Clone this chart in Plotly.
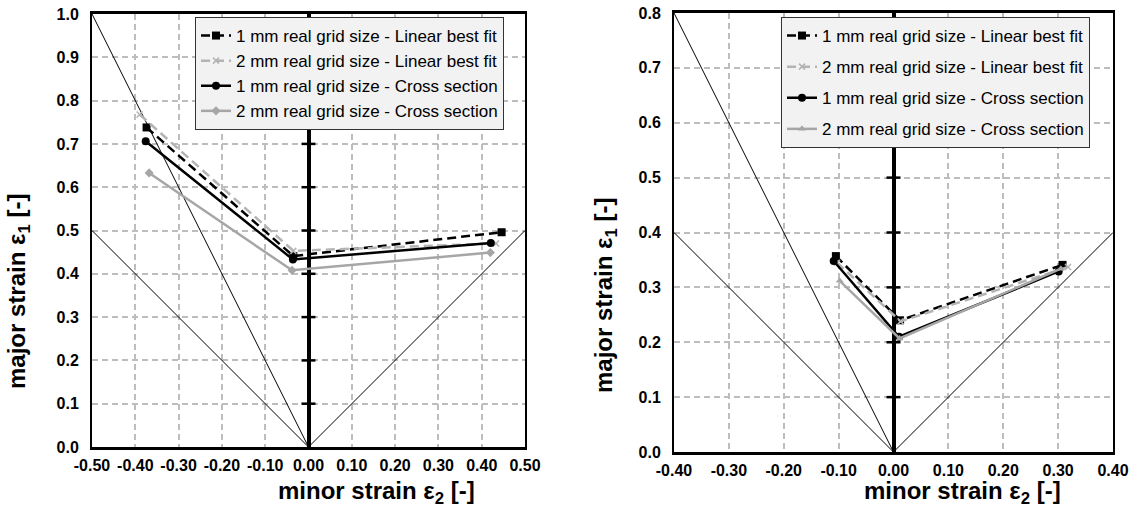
import plotly.graph_objects as go

# ---------------- data ----------------
series_names = [
    "1 mm real grid size - Linear best fit",
    "2 mm real grid size - Linear best fit",
    "1 mm real grid size - Cross section",
    "2 mm real grid size - Cross section",
]

# left chart
L_x1 = [-0.374, -0.035, 0.446]
L_y1 = [0.738, 0.441, 0.496]
L_x2 = [-0.390, -0.035, 0.433]
L_y2 = [0.768, 0.453, 0.470]
L_x3 = [-0.376, -0.036, 0.421]
L_y3 = [0.706, 0.433, 0.471]
L_x4 = [-0.368, -0.038, 0.420]
L_y4 = [0.633, 0.408, 0.449]

# right chart
R_x1 = [-0.105, 0.012, 0.308]
R_y1 = [0.357, 0.240, 0.341]
R_x2 = [-0.103, 0.013, 0.318]
R_y2 = [0.345, 0.238, 0.337]
R_x3 = [-0.109, 0.010, 0.301]
R_y3 = [0.348, 0.210, 0.329]
R_x4 = [-0.098, 0.011, 0.305]
R_y4 = [0.312, 0.207, 0.334]

# reference (strain path) lines: uniaxial, pure shear, equibiaxial
L_ref_x = [[-0.5, 0.0], [-0.5, 0.0], [0.0, 0.5]]
L_ref_y = [[1.0, 0.0], [0.5, 0.0], [0.0, 0.5]]
R_ref_x = [[-0.4, 0.0], [-0.4, 0.0], [0.0, 0.4]]
R_ref_y = [[0.8, 0.0], [0.4, 0.0], [0.0, 0.4]]

# ticks
L_xticks = [-0.5, -0.4, -0.3, -0.2, -0.1, 0.0, 0.1, 0.2, 0.3, 0.4, 0.5]
L_xticktext = ["-0.50", "-0.40", "-0.30", "-0.20", "-0.10", "0.00", "0.10", "0.20", "0.30", "0.40", "0.50"]
L_yticks = [0.0, 0.1, 0.2, 0.3, 0.4, 0.5, 0.6, 0.7, 0.8, 0.9, 1.0]
L_yticktext = ["0.0", "0.1", "0.2", "0.3", "0.4", "0.5", "0.6", "0.7", "0.8", "0.9", "1.0"]
R_xticks = [-0.4, -0.3, -0.2, -0.1, 0.0, 0.1, 0.2, 0.3, 0.4]
R_xticktext = ["-0.40", "-0.30", "-0.20", "-0.10", "0.00", "0.10", "0.20", "0.30", "0.40"]
R_yticks = [0.0, 0.1, 0.2, 0.3, 0.4, 0.5, 0.6, 0.7, 0.8]
R_yticktext = ["0.0", "0.1", "0.2", "0.3", "0.4", "0.5", "0.6", "0.7", "0.8"]

# ---------------- styling ----------------
FONT = "Liberation Sans, Arial, sans-serif"
BLACK = "#000000"
GRAY = "#a6a6a6"
GRAY_D = "#b4b4b4"
W, H = 1136, 507

styles = [
    dict(line=dict(color=BLACK, width=2.5, dash="9px,5px"),
         marker=dict(symbol="square", size=8, color=BLACK)),
    dict(line=dict(color=GRAY_D, width=2.5, dash="9px,5px"),
         marker=dict(symbol="x-thin", size=6, color=GRAY_D, line=dict(color=GRAY_D, width=1.5))),
    dict(line=dict(color=BLACK, width=2.5),
         marker=dict(symbol="circle", size=8, color=BLACK)),
    None,  # set per chart
]

fig = go.Figure()


def add_chart(xs, ys, refx, refy, yticks, xax, yax, legend, s4_symbol):
    # reference lines
    for rx, ry in zip(refx, refy):
        fig.add_trace(go.Scatter(x=rx, y=ry, mode="lines", line=dict(color=BLACK, width=1),
                                 showlegend=False, hoverinfo="skip", xaxis=xax, yaxis=yax))
    # tick marks along the vertical zero axis
    fig.add_trace(go.Scatter(x=[0.0] * len(yticks[1:-1]), y=yticks[1:-1], mode="markers",
                             marker=dict(symbol="line-ew", size=10, line=dict(color=BLACK, width=2.5)),
                             showlegend=False, hoverinfo="skip", xaxis=xax, yaxis=yax))
    for i, (x, y) in enumerate(zip(xs, ys)):
        st = styles[i]
        if st is None:
            st = dict(line=dict(color=GRAY, width=2.5),
                      marker=dict(symbol=s4_symbol, size=7, color=GRAY))
        fig.add_trace(go.Scatter(x=x, y=y, mode="lines+markers", name=series_names[i],
                                 line=st["line"], marker=st["marker"], legend=legend,
                                 legendgroup=f"{legend}{i}", xaxis=xax, yaxis=yax))


add_chart([L_x1, L_x2, L_x3, L_x4], [L_y1, L_y2, L_y3, L_y4], L_ref_x, L_ref_y, L_yticks,
          "x", "y", "legend", "diamond")
add_chart([R_x1, R_x2, R_x3, R_x4], [R_y1, R_y2, R_y3, R_y4], R_ref_x, R_ref_y, R_yticks,
          "x2", "y2", "legend2", "triangle-up")


def bold(labels):
    return [f"<b>{t}</b>" for t in labels]


tickfont = dict(family=FONT, size=16, color=BLACK)
grid = dict(showgrid=True, gridcolor="#bdbdbd", griddash="6px,4px", gridwidth=1.5)
common_x = dict(showline=True, linecolor=BLACK, linewidth=2.5, mirror=True, automargin=False,
                zeroline=True, zerolinecolor=BLACK, zerolinewidth=3.5,
                ticks="outside", ticklen=2, tickcolor="rgba(0,0,0,0)",
                tickfont=tickfont, fixedrange=True, **grid)
common_y = dict(showline=True, linecolor=BLACK, linewidth=2, mirror=True, automargin=False,
                zeroline=False,
                ticks="outside", ticklen=8, tickcolor="rgba(0,0,0,0)",
                tickfont=tickfont, fixedrange=True, **grid)

fig.update_layout(
    template="none",
    width=W, height=H,
    margin=dict(l=0, r=0, t=0, b=0, autoexpand=False),
    paper_bgcolor="white", plot_bgcolor="white",
    font=dict(family=FONT, color=BLACK),
    xaxis=dict(domain=[92 / W, 525 / W], range=[-0.5, 0.5], tickvals=L_xticks,
               ticktext=bold(L_xticktext), anchor="y", **common_x),
    yaxis=dict(domain=[1 - 447 / H, 1 - 14 / H], range=[0, 1.0], tickvals=L_yticks,
               ticktext=bold(L_yticktext), anchor="x", **common_y),
    xaxis2=dict(domain=[674 / W, 1113 / W], range=[-0.4, 0.4], tickvals=R_xticks,
                ticktext=bold(R_xticktext), anchor="y2", **common_x),
    yaxis2=dict(domain=[1 - 452 / H, 1 - 13 / H], range=[0, 0.8], tickvals=R_yticks,
                ticktext=bold(R_yticktext), anchor="x2", **common_y),
    legend=dict(x=195 / W, y=1 - 17 / H, xanchor="left", yanchor="top",
                bgcolor="#f2f2f2", bordercolor="#333333", borderwidth=1,
                font=dict(family=FONT, size=17, color=BLACK), tracegroupgap=0,
                itemclick=False, itemdoubleclick=False),
    legend2=dict(x=781 / W, y=1 - 17 / H, xanchor="left", yanchor="top",
                 bgcolor="#f2f2f2", bordercolor="#333333", borderwidth=1,
                 font=dict(family=FONT, size=17, color=BLACK), tracegroupgap=6,
                 itemclick=False, itemdoubleclick=False),
    showlegend=True,
)

title_font = dict(family=FONT, size=24, color=BLACK)
annotations = [
    dict(text="<b>minor strain ε<sub>2</sub> [-]</b>", x=376 / W, y=0.0, yanchor="bottom", yshift=-3),
    dict(text="<b>minor strain ε<sub>2</sub> [-]</b>", x=962 / W, y=0.0, yanchor="bottom", yshift=-3),
    dict(text="<b>major strain ε<sub>1</sub> [-]</b>", x=18 / W, y=1 - 292 / H, textangle=-90,
         yanchor="middle"),
    dict(text="<b>major strain ε<sub>1</sub> [-]</b>", x=605 / W, y=1 - 296 / H, textangle=-90,
         yanchor="middle"),
]
for a in annotations:
    fig.add_annotation(xref="paper", yref="paper", showarrow=False, font=title_font,
                       xanchor="center", **a)

fig.write_html(
    "out.html",
    config={"displayModeBar": False},
    post_script="document.body.style.margin='0px';document.body.style.overflow='hidden';",
)
